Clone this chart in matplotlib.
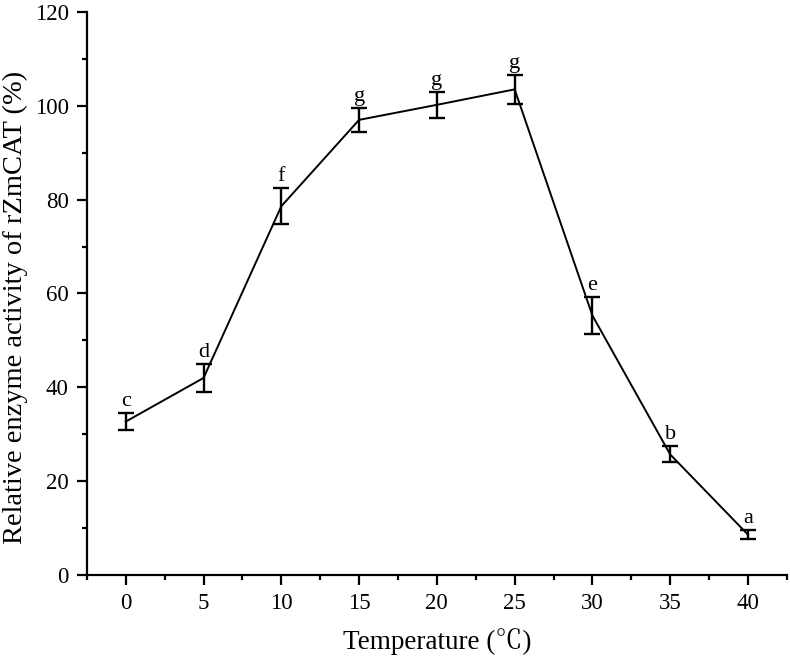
import matplotlib
matplotlib.use("Agg")
import matplotlib.pyplot as plt
from matplotlib.ticker import MultipleLocator

temperature = [0, 5, 10, 15, 20, 25, 30, 35, 40]
activity = [32.7, 42.0, 78.6, 97.0, 100.2, 103.5, 55.3, 25.7, 8.6]
errors = [1.9, 3.0, 3.8, 2.5, 2.7, 3.1, 3.9, 1.7, 0.9]
letters = ["c", "d", "f", "g", "g", "g", "e", "b", "a"]

serif = ["Liberation Serif", "Noto Serif CJK SC", "Noto Sans CJK SC", "DejaVu Serif"]
plt.rcParams["font.family"] = serif

fig = plt.figure(figsize=(7.9, 6.63), dpi=100)
ax = fig.add_axes([0.110, 0.1327, 0.886, 0.8493])

ax.errorbar(temperature, activity, yerr=errors, color="black", lw=1.4,
            elinewidth=1.7, capsize=6, capthick=1.7)

for x, y, e, t in zip(temperature, activity, errors, letters):
    ax.annotate(t, (x, y + e), xytext=(0, 1.5), textcoords="offset points",
                ha="center", va="bottom", fontsize=16)

ax.set_xlim(-2.5, 42.5)
ax.set_ylim(0, 120)
ax.xaxis.set_major_locator(MultipleLocator(5))
ax.xaxis.set_minor_locator(MultipleLocator(2.5))
ax.yaxis.set_major_locator(MultipleLocator(20))
ax.yaxis.set_minor_locator(MultipleLocator(10))

for s in ["top", "right"]:
    ax.spines[s].set_visible(False)
for s in ["left", "bottom"]:
    ax.spines[s].set_linewidth(1.6)

ax.tick_params(which="major", direction="out", length=7, width=1.6, labelsize=16.5, pad=6)
ax.tick_params(which="minor", direction="out", length=3.7, width=1.6)

ax.set_xlabel("Temperature (\u2103)", fontsize=19.5, labelpad=10, family=serif)
ax.set_ylabel("Relative enzyme activity of rZmCAT (%)", fontsize=20.5)
ax.yaxis.set_label_coords(-0.084, 0.476)

fig.savefig("out.png", dpi=100)
